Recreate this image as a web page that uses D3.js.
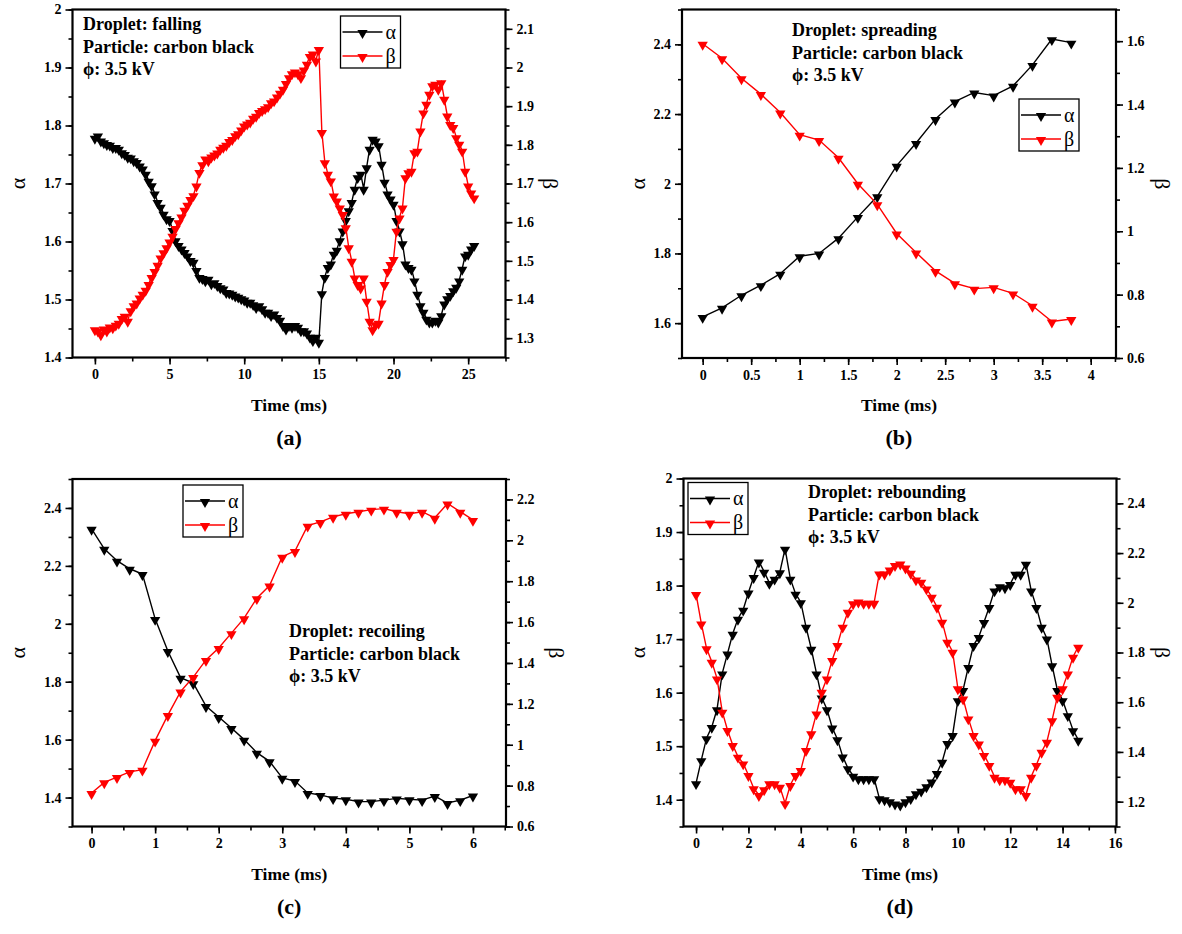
<!DOCTYPE html>
<html>
<head>
<meta charset="utf-8">
<script src="https://cdn.jsdelivr.net/npm/d3@7"></script>
<style>
body { margin: 0; background: #fff; }
svg { display: block; font-family: "Liberation Serif", "DejaVu Serif", serif; }
</style>
</head>
<body>
<svg id="chart" width="1182" height="934"></svg>
<script>

// Sampling grids (ms): start, end, step
const gridA = [0, 25.4, 0.2];
const gridB = [0, 3.8, 0.2];
const gridC = [0, 6.0, 0.2];
const gridD = [0, 14.6, 0.2];

// (a) falling
const alphaA = [
  1.779,1.783,1.774,1.771,1.768,1.767,1.763,1.763,1.760,1.754,
  1.751,1.746,1.745,1.740,1.737,1.731,1.726,1.717,1.705,1.697,
  1.683,1.668,1.660,1.648,1.640,1.637,1.620,1.602,1.594,1.588,
  1.582,1.576,1.568,1.565,1.551,1.539,1.537,1.533,1.536,1.528,
  1.530,1.525,1.521,1.519,1.513,1.512,1.510,1.507,1.505,1.502,
  1.500,1.496,1.496,1.492,1.487,1.490,1.485,1.479,1.479,1.473,
  1.476,1.470,1.465,1.456,1.450,1.456,1.453,1.456,1.453,1.447,
  1.447,1.443,1.436,1.430,1.436,1.427,1.511,1.539,1.556,1.562,
  1.579,1.586,1.602,1.619,1.637,1.654,1.668,1.691,1.711,1.717,
  1.691,1.728,1.760,1.777,1.774,1.766,1.734,1.703,1.683,1.674,
  1.665,1.637,1.619,1.597,1.562,1.556,1.553,1.533,1.510,1.490,
  1.479,1.467,1.462,1.462,1.465,1.462,1.473,1.493,1.502,1.508,
  1.516,1.522,1.533,1.553,1.576,1.579,1.588,1.594
];
const betaA = [
  1.323,1.320,1.310,1.325,1.320,1.330,1.328,1.335,1.340,1.352,
  1.358,1.345,1.372,1.385,1.392,1.405,1.415,1.425,1.440,1.458,
  1.474,1.490,1.509,1.522,1.535,1.550,1.565,1.585,1.600,1.615,
  1.632,1.645,1.660,1.670,1.695,1.730,1.750,1.765,1.760,1.770,
  1.775,1.780,1.790,1.795,1.800,1.810,1.815,1.825,1.830,1.840,
  1.850,1.855,1.860,1.870,1.875,1.885,1.890,1.895,1.900,1.910,
  1.915,1.925,1.935,1.945,1.960,1.975,1.985,1.990,1.985,1.975,
  1.995,2.010,2.030,2.036,2.018,2.048,1.833,1.755,1.725,1.708,
  1.669,1.656,1.638,1.621,1.587,1.535,1.500,1.457,1.440,1.431,
  1.457,1.397,1.345,1.323,1.336,1.340,1.392,1.440,1.474,1.492,
  1.505,1.578,1.612,1.638,1.716,1.729,1.733,1.781,1.785,1.837,
  1.884,1.906,1.932,1.954,1.958,1.945,1.962,1.919,1.876,1.854,
  1.846,1.820,1.803,1.785,1.733,1.695,1.677,1.664
];

// (b) spreading
const alphaB = [1.618,1.644,1.680,1.709,1.742,1.792,1.800,1.844,1.905,1.964,
  2.052,2.117,2.186,2.236,2.262,2.253,2.281,2.341,2.415,2.405];
const betaB = [1.592,1.546,1.483,1.433,1.375,1.305,1.288,1.232,1.150,1.085,
  0.993,0.933,0.875,0.836,0.819,0.823,0.804,0.765,0.715,0.723];

// (c) recoiling
const alphaC = [2.328,2.259,2.218,2.190,2.172,2.017,1.906,1.814,1.795,1.716,
  1.678,1.640,1.600,1.555,1.525,1.468,1.457,1.416,1.409,1.398,
  1.394,1.386,1.386,1.391,1.397,1.394,1.391,1.405,1.381,1.391,1.407];
const betaC = [0.764,0.816,0.842,0.867,0.878,1.020,1.145,1.260,1.331,1.415,
  1.473,1.546,1.619,1.717,1.779,1.920,1.948,2.072,2.090,2.115,
  2.130,2.140,2.150,2.155,2.140,2.130,2.140,2.110,2.180,2.140,2.100];

// (d) rebounding
const alphaD = [
  1.431,1.474,1.515,1.536,1.569,1.636,1.673,1.710,1.738,1.755,
  1.787,1.816,1.845,1.826,1.805,1.813,1.825,1.869,1.813,1.785,
  1.769,1.723,1.682,1.636,1.591,1.569,1.535,1.513,1.481,1.459,
  1.445,1.440,1.440,1.440,1.440,1.403,1.401,1.397,1.393,1.391,
  1.397,1.403,1.412,1.417,1.425,1.434,1.450,1.471,1.506,1.521,
  1.586,1.605,1.648,1.689,1.704,1.732,1.760,1.791,1.799,1.797,
  1.803,1.822,1.822,1.841,1.791,1.760,1.723,1.701,1.651,1.605,
  1.586,1.558,1.530,1.512
];
const betaD = [
  2.035,1.917,1.817,1.763,1.696,1.562,1.488,1.428,1.381,1.354,
  1.307,1.254,1.227,1.250,1.274,1.274,1.260,1.194,1.267,1.307,
  1.327,1.408,1.475,1.555,1.642,1.696,1.770,1.830,1.904,1.964,
  1.998,2.005,2.000,2.000,2.000,2.118,2.118,2.134,2.152,2.158,
  2.142,2.121,2.094,2.085,2.058,2.024,1.984,1.924,1.843,1.803,
  1.656,1.615,1.535,1.468,1.434,1.388,1.348,1.300,1.290,1.290,
  1.280,1.254,1.254,1.227,1.300,1.348,1.401,1.441,1.528,1.622,
  1.656,1.716,1.783,1.823
];

// tick labels
const xTicksA = [0, 5, 10, 15, 20, 25];
const xTicksB = [0, 0.5, 1, 1.5, 2, 2.5, 3, 3.5, 4];
const xTicksC = [0, 1, 2, 3, 4, 5, 6];
const xTicksD = [0, 2, 4, 6, 8, 10, 12, 14, 16];
const lTicksA = [1.4, 1.5, 1.6, 1.7, 1.8, 1.9, 2];
const lTicksB = [1.6, 1.8, 2, 2.2, 2.4];
const lTicksC = [1.4, 1.6, 1.8, 2, 2.2, 2.4];
const lTicksD = [1.4, 1.5, 1.6, 1.7, 1.8, 1.9, 2];
const rTicksA = [1.3, 1.4, 1.5, 1.6, 1.7, 1.8, 1.9, 2, 2.1];
const rTicksB = [0.6, 0.8, 1, 1.2, 1.4, 1.6];
const rTicksC = [0.6, 0.8, 1, 1.2, 1.4, 1.6, 1.8, 2, 2.2];
const rTicksD = [1.2, 1.4, 1.6, 1.8, 2, 2.2, 2.4];

const notesA = ["Droplet: falling", "Particle: carbon black", "\u03d5: 3.5 kV"];
const notesB = ["Droplet: spreading", "Particle: carbon black", "\u03d5: 3.5 kV"];
const notesC = ["Droplet: recoiling", "Particle: carbon black", "\u03d5: 3.5 kV"];
const notesD = ["Droplet: rebounding", "Particle: carbon black", "\u03d5: 3.5 kV"];

const seriesNames = ["\u03b1", "\u03b2"];
const seriesColors = ["#000000", "#ff0000"];

const panels = [
  {grid: gridA, alpha: alphaA, beta: betaA, label: "(a)",
   box: [72.5, 9.5, 505.5, 357.5], xDom: [-1.5, 27.5], xTicks: xTicksA, xMinor: 2.5,
   lDom: [1.4, 2.0], lTicks: lTicksA, lMinor: 0.05, rDom: [1.25, 2.15], rTicks: rTicksA, rMinor: 0.05,
   notes: notesA, notePos: [83, 30], legend: [340.5, 16], aX: 17, bX: 551},
  {grid: gridB, alpha: alphaB, beta: betaB, label: "(b)",
   box: [682, 9.5, 1116, 358], xDom: [-0.213, 4.261], xTicks: xTicksB, xMinor: 0.25,
   lDom: [1.5, 2.5], lTicks: lTicksB, lMinor: 0.1, rDom: [0.6, 1.7], rTicks: rTicksB, rMinor: 0.1,
   notes: notesB, notePos: [792, 36], legend: [1019, 99], aX: 637, bX: 1163},
  {grid: gridC, alpha: alphaC, beta: betaC, label: "(c)",
   box: [72.5, 479, 506, 826.5], xDom: [-0.3, 6.52], xTicks: xTicksC, xMinor: 0.5,
   lDom: [1.3, 2.5], lTicks: lTicksC, lMinor: 0.1, rDom: [0.6, 2.3], rTicks: rTicksC, rMinor: 0.1,
   notes: notesC, notePos: [289, 637], legend: [183, 485], aX: 17, bX: 557},
  {grid: gridD, alpha: alphaD, beta: betaD, label: "(d)",
   box: [683.5, 478.5, 1116.5, 826.5], xDom: [-0.48, 16.06], xTicks: xTicksD, xMinor: 1,
   lDom: [1.35, 2.0], lTicks: lTicksD, lMinor: 0.05, rDom: [1.1, 2.5], rTicks: rTicksD, rMinor: 0.1,
   notes: notesD, notePos: [808, 498], legend: [688, 482.5], aX: 637, bX: 1163}
];

const FONT = "'Liberation Serif', 'DejaVu Serif', serif";
const svg = d3.select("#chart");
const fmt = v => String(+v.toFixed(2));
const tri = d3.symbol().type(d3.symbolTriangle).size(46);

function minorTicks(dom, step) {
  const lo = Math.ceil(dom[0] / step - 1e-6), hi = Math.floor(dom[1] / step + 1e-6);
  return d3.range(lo, hi + 1).map(i => +(i * step).toFixed(4));
}

function styleAxis(g) {
  g.attr("font-family", FONT);
  g.select(".domain").remove();
  g.selectAll(".tick line").attr("stroke", "#000").attr("stroke-width", 1.6);
  g.selectAll(".tick text").attr("fill", "#000")
    .style("font-family", FONT).style("font-size", "14px").style("font-weight", "bold");
}

function addText(g, txt, size, bold) {
  return g.append("text").text(txt)
    .style("font-family", FONT).style("font-size", size + "px")
    .style("font-weight", bold ? "bold" : "normal").attr("fill", "#000");
}

panels.forEach(p => {
  const [x0, y0, x1, y1] = p.box;
  const time = d3.range(p.grid[0], p.grid[1] + p.grid[2] / 2, p.grid[2]);
  const x = d3.scaleLinear().domain(p.xDom).range([x0, x1]);
  const yl = d3.scaleLinear().domain(p.lDom).range([y1, y0]);
  const yr = d3.scaleLinear().domain(p.rDom).range([y1, y0]);
  const g = svg.append("g");

  // minor ticks
  g.append("g").attr("transform", `translate(0,${y1})`)
    .call(d3.axisBottom(x).tickValues(minorTicks(p.xDom, p.xMinor)).tickSize(4).tickFormat(""))
    .call(styleAxis);
  g.append("g").attr("transform", `translate(${x0},0)`)
    .call(d3.axisLeft(yl).tickValues(minorTicks(p.lDom, p.lMinor)).tickSize(4).tickFormat(""))
    .call(styleAxis);
  g.append("g").attr("transform", `translate(${x1},0)`)
    .call(d3.axisRight(yr).tickValues(minorTicks(p.rDom, p.rMinor)).tickSize(4).tickFormat(""))
    .call(styleAxis);

  // major ticks
  g.append("g").attr("transform", `translate(0,${y1})`)
    .call(d3.axisBottom(x).tickValues(p.xTicks).tickSize(7).tickPadding(5).tickFormat(fmt))
    .call(styleAxis);
  g.append("g").attr("transform", `translate(${x0},0)`)
    .call(d3.axisLeft(yl).tickValues(p.lTicks).tickSize(7).tickPadding(4).tickFormat(fmt))
    .call(styleAxis);
  g.append("g").attr("transform", `translate(${x1},0)`)
    .call(d3.axisRight(yr).tickValues(p.rTicks).tickSize(7).tickPadding(4).tickFormat(fmt))
    .call(styleAxis);

  // series
  const series = [p.alpha, p.beta];
  const scales = [yl, yr];
  series.forEach((vals, k) => {
    const pts = vals.map((v, i) => [x(time[i]), scales[k](v)]);
    g.append("path").attr("d", d3.line()(pts))
      .attr("fill", "none").attr("stroke", seriesColors[k]).attr("stroke-width", 1.4);
    g.selectAll(null).data(pts).enter().append("path")
      .attr("d", tri)
      .attr("transform", d => `translate(${d[0]},${d[1] + 1}) rotate(180)`)
      .attr("fill", seriesColors[k]);
  });

  // frame
  g.append("rect").attr("x", x0).attr("y", y0).attr("width", x1 - x0).attr("height", y1 - y0)
    .attr("fill", "none").attr("stroke", "#000").attr("stroke-width", 2.2);

  // notes
  p.notes.forEach((t, i) => {
    addText(g, t, 18, true).attr("x", p.notePos[0]).attr("y", p.notePos[1] + i * 22.5);
  });

  // legend
  const [lx, ly] = p.legend;
  const lg = g.append("g").attr("transform", `translate(${lx},${ly})`);
  lg.append("rect").attr("width", 60).attr("height", 52)
    .attr("fill", "#fff").attr("stroke", "#000").attr("stroke-width", 1.3);
  seriesNames.forEach((n, k) => {
    const cy = 16 + k * 24;
    lg.append("line").attr("x1", 2).attr("x2", 42).attr("y1", cy).attr("y2", cy)
      .attr("stroke", seriesColors[k]).attr("stroke-width", 1.4);
    lg.append("path").attr("d", tri).attr("transform", `translate(22,${cy + 1}) rotate(180)`)
      .attr("fill", seriesColors[k]);
    addText(lg, n, 20, false).attr("x", 45).attr("y", cy).attr("dy", "0.33em");
  });

  // axis titles
  const cy = (y0 + y1) / 2;
  addText(g, seriesNames[0], 22, false).attr("transform", `translate(${p.aX},${cy}) rotate(-90)`)
    .attr("text-anchor", "middle").attr("dy", "0.35em");
  addText(g, seriesNames[1], 22, false).attr("transform", `translate(${p.bX},${cy}) rotate(90)`)
    .attr("text-anchor", "middle").attr("dy", "0.35em");
  addText(g, "Time (ms)", 17.5, true).attr("x", (x0 + x1) / 2).attr("y", y1 + 53)
    .attr("text-anchor", "middle");
  addText(g, p.label, 22, true).attr("x", (x0 + x1) / 2).attr("y", y1 + 87)
    .attr("text-anchor", "middle");
});

</script>
</body>
</html>
